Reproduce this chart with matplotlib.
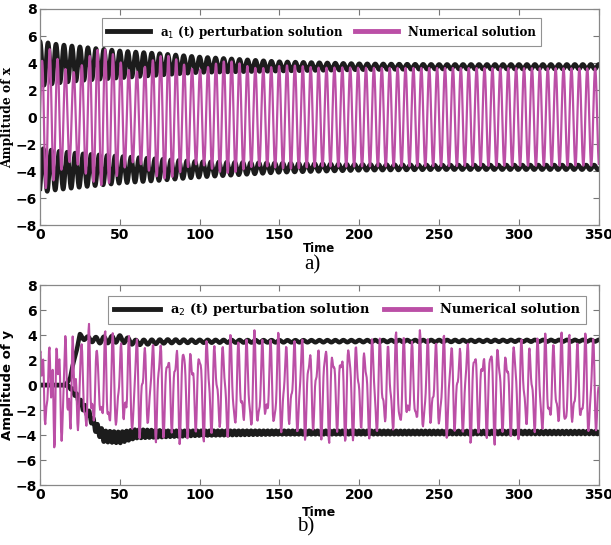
import numpy as np
import matplotlib
matplotlib.use("Agg")
import matplotlib.pyplot as plt

# ---- values ----
t_end = 350.0
x_ticks = [0, 50, 100, 150, 200, 250, 300, 350]
y_ticks = [-8, -6, -4, -2, 0, 2, 4, 6, 8]

# panel a: black band (a1 perturbation), outer / inner edge of the upper lobe
xa_t = [0, 10, 25, 50, 75, 100, 150, 200, 250, 350]
xa_outer = [5.6, 5.4, 5.2, 4.9, 4.7, 4.45, 4.1, 3.95, 3.9, 3.9]
xa_inner = [2.3, 2.5, 2.7, 2.9, 3.1, 3.3, 3.4, 3.5, 3.55, 3.55]
xa_period = 5.0

# panel a: numerical solution, main amplitude and early beating part
xn_t = [0, 3, 20, 50, 100, 150, 200, 350]
xn_amp = [2.3, 4.4, 4.3, 4.1, 3.9, 3.75, 3.65, 3.6]
xn_beat = [1.0, 1.0, 1.0, 0.8, 0.4, 0.1, 0.0, 0.0]
xn_period = 4.95
xn_beat_period = 4.4

# panel b: black a2 curves (upper and lower branch) and ripple size
ya_t = [0, 16, 19, 22, 25, 30, 35, 40, 50, 60, 80, 100, 150, 350]
ya_up = [0, 0, 0.6, 2.4, 3.9, 3.7, 3.6, 3.6, 3.7, 3.4, 3.5, 3.5, 3.5, 3.55]
ya_dn = [0, 0, -0.2, -0.7, -1.4, -2.2, -3.4, -4.1, -4.2, -3.9, -3.9, -3.85, -3.8, -3.8]
ya_rip = [0.0, 0.0, 0.1, 0.2, 0.3, 0.3, 0.4, 0.45, 0.45, 0.35, 0.25, 0.2, 0.15, 0.12]

# panel b: numerical solution, parts of the irregular signal
yn_t = [0, 10, 25, 50, 100, 200, 350]
yn_a1 = [2.4, 2.8, 2.9, 3.0, 3.0, 3.0, 3.0]
yn_a2 = [1.2, 1.2, 1.1, 1.1, 1.1, 1.1, 1.1]
yn_a3 = [0.7, 0.7, 0.6, 0.55, 0.55, 0.55, 0.55]
yn_a4 = [1.6, 1.4, 0.8, 0.3, 0.1, 0.0, 0.0]
yn_periods = [4.93, 2.53, 3.71, 2.05]
yn_step = 0.33

black = "#1c1c1c"
magenta = "#bb4fa6"

t = np.arange(0, t_end + 0.01, 0.05)
ts = np.arange(0, t_end + 0.01, yn_step)


def env(tt, knots_t, knots_v):
    return np.interp(tt, knots_t, knots_v)


# panel a curves
mid = (env(t, xa_t, xa_outer) + env(t, xa_t, xa_inner)) / 2
half = (env(t, xa_t, xa_outer) - env(t, xa_t, xa_inner)) / 2
x_up = mid + half * np.cos(2 * np.pi * t / xa_period)
x_dn = -(mid + half * np.cos(2 * np.pi * t / xa_period + 0.6))
x_num = env(t, xn_t, xn_amp) * np.sin(2 * np.pi * t / xn_period) \
    + env(t, xn_t, xn_beat) * np.sin(2 * np.pi * t / xn_beat_period)

# panel b curves
rip = env(t, ya_t, ya_rip)
y_up = env(t, ya_t, ya_up) + 0.6 * rip * np.cos(2 * np.pi * t / 5.0)
y_dn = env(t, ya_t, ya_dn) + rip * np.cos(2 * np.pi * t / 2.6 + 1.0)
y_num = env(ts, yn_t, yn_a1) * np.sin(2 * np.pi * ts / yn_periods[0]) \
    + env(ts, yn_t, yn_a2) * np.sin(2 * np.pi * ts / yn_periods[1] + 1.1) \
    + env(ts, yn_t, yn_a3) * np.sin(2 * np.pi * ts / yn_periods[2] + 0.4) \
    + env(ts, yn_t, yn_a4) * np.sin(2 * np.pi * ts / yn_periods[3] + 2.0) - 0.2

fig = plt.figure(figsize=(6.11, 5.45), dpi=100)
ax1 = fig.add_axes([0.0655, 0.587, 0.9145, 0.3965])
ax2 = fig.add_axes([0.0655, 0.110, 0.9145, 0.367])

tick_font = dict(family="DejaVu Sans", weight="bold", size=10)

for ax in (ax1, ax2):
    ax.set_xlim(0, t_end)
    ax.set_ylim(-8, 8)
    ax.set_xticks(x_ticks)
    ax.set_yticks(y_ticks)
    ax.tick_params(direction="in", top=True, right=True, length=4, color="#777777", pad=2)
    for lab in ax.get_xticklabels() + ax.get_yticklabels():
        lab.set_fontproperties(tick_font)
    for s in ax.spines.values():
        s.set_color("#888888")
        s.set_linewidth(0.9)

# panel a
ax1.plot(t, x_up, color=black, lw=3.2, label="a$_1$ (t) perturbation solution")
ax1.plot(t, x_dn, color=black, lw=3.2)
ax1.plot(t, x_num, color=magenta, lw=1.6, label="Numerical solution")
ax1.set_xlabel("Time", fontdict=dict(family="DejaVu Sans", weight="bold", size=8.5), labelpad=0)
ax1.set_ylabel("Amplitude of x", fontdict=dict(family="DejaVu Serif", weight="bold", size=8.8), labelpad=1)
leg1 = ax1.legend(loc="upper left", ncol=2, prop=dict(family="DejaVu Serif", weight="bold", size=8.6),
                  frameon=True, fancybox=False, edgecolor="#777777", handlelength=3.6,
                  handletextpad=0.8, columnspacing=1.0, borderpad=0.45,
                  bbox_to_anchor=(0.1, 0.985))
leg1.get_frame().set_linewidth(0.8)
for h in leg1.legend_handles:
    h.set_linewidth(3.5)

# panel b
ax2.plot(t, y_up, color=black, lw=3.2, label="a$_2$ (t) perturbation solution")
ax2.plot(t, y_dn, color=black, lw=3.2)
ax2.plot(ts, y_num, color=magenta, lw=1.5, label="Numerical solution")
ax2.set_xlabel("Time", fontdict=dict(family="DejaVu Sans", weight="bold", size=9), labelpad=3)
ax2.set_ylabel("Amplitude of y", fontdict=dict(family="DejaVu Sans", weight="bold", size=9.5), labelpad=1)
leg2 = ax2.legend(loc="upper left", ncol=2, prop=dict(family="DejaVu Serif", weight="bold", size=9.4),
                  frameon=True, fancybox=False, edgecolor="#777777", handlelength=3.5,
                  handletextpad=0.8, columnspacing=1.0, borderpad=0.45,
                  bbox_to_anchor=(0.11, 0.98))
leg2.get_frame().set_linewidth(0.8)
for h in leg2.legend_handles:
    h.set_linewidth(3.5)

fig.text(0.511, 0.514, "a)", ha="center", va="center", family="Liberation Serif", size=15)
fig.text(0.50, 0.033, "b)", ha="center", va="center", family="Liberation Serif", size=15)

fig.savefig("out.png", dpi=100)
